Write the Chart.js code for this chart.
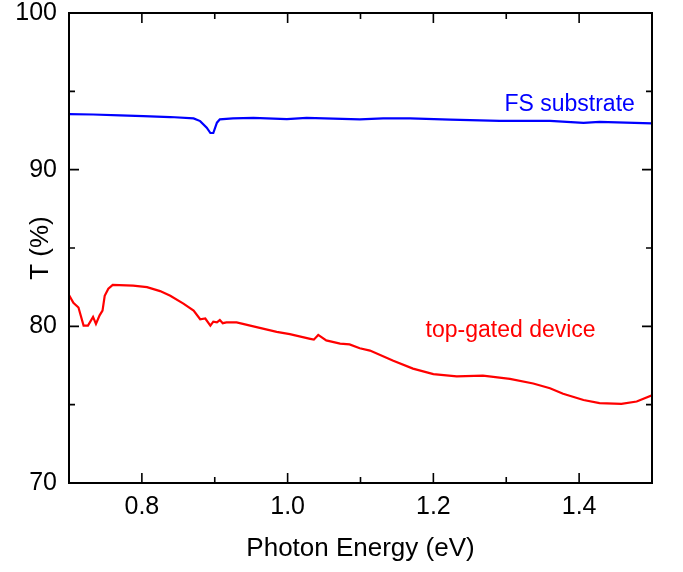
<!DOCTYPE html>
<html>
<head>
<meta charset="utf-8">
<script src="https://cdn.jsdelivr.net/npm/chart.js@4"></script>
<style>
  html, body { margin: 0; padding: 0; background: #fff; }
  #wrap { width: 683px; height: 572px; }
</style>
</head>
<body>
<div id="wrap"><canvas id="c" width="683" height="572"></canvas></div>
<script>
// ---- data ----
const blueEnergy = [0.700,0.733,0.770,0.802,0.839,0.871,0.880,0.889,0.894,0.898,0.903,0.907,0.925,0.953,0.999,1.026,1.099,1.131,1.168,1.223,1.291,1.360,1.406,1.428,1.500];
const blueT      = [93.55,93.52,93.47,93.42,93.36,93.27,93.10,92.68,92.34,92.34,93.00,93.21,93.27,93.31,93.23,93.31,93.21,93.27,93.27,93.19,93.11,93.11,92.99,93.05,92.96];

const redEnergy = [0.700,0.706,0.713,0.720,0.726,0.733,0.737,0.742,0.746,0.749,0.754,0.760,0.788,0.807,0.825,0.839,0.857,0.871,0.880,0.887,0.894,0.898,0.903,0.907,0.911,0.916,0.930,0.953,0.985,1.003,1.031,1.036,1.042,1.053,1.072,1.085,1.099,1.113,1.145,1.172,1.200,1.232,1.268,1.305,1.337,1.360,1.378,1.406,1.428,1.458,1.479,1.500];
const redT      = [82.00,81.50,81.20,80.05,80.05,80.60,80.15,80.70,81.00,81.95,82.40,82.65,82.60,82.50,82.25,81.95,81.45,81.00,80.45,80.50,80.05,80.30,80.25,80.40,80.20,80.25,80.25,80.00,79.65,79.50,79.20,79.15,79.45,79.10,78.90,78.85,78.60,78.45,77.80,77.30,76.95,76.80,76.85,76.65,76.35,76.05,75.70,75.30,75.10,75.05,75.20,75.60];

const seriesNames = ["FS substrate", "top-gated device"];
const xTicks = [0.8, 1.0, 1.2, 1.4];
const xMinorTicks = [0.9, 1.1, 1.3];
const yTicks = [70, 80, 90, 100];
const yMinorTicks = [75, 85, 95];
const xTitle = "Photon Energy (eV)";
const yTitle = "T (%)";
const labelAnchors = [ {x: 1.387, y: 93.74}, {x: 1.306, y: 79.30} ];

const BLUE = '#0000ff';
const RED = '#ff0000';
const FONT = '"Liberation Sans", Arial, Helvetica, sans-serif';

const toPts = (xs, ys) => xs.map((x, i) => ({x: x, y: ys[i]}));

const framePlugin = {
  id: 'frame',
  afterDatasetsDraw(chart) {
    const ctx = chart.ctx;
    const a = chart.chartArea;
    const xs = chart.scales.x, ys = chart.scales.y;
    ctx.save();
    ctx.strokeStyle = '#000';
    ctx.lineWidth = 2;
    ctx.strokeRect(a.left, a.top, a.right - a.left, a.bottom - a.top);
    const major = 10, minor = 6;
    ctx.lineWidth = 1.6;
    ctx.beginPath();
    const xt = (v, len) => {
      const p = xs.getPixelForValue(v);
      ctx.moveTo(p, a.bottom); ctx.lineTo(p, a.bottom - len);
      ctx.moveTo(p, a.top); ctx.lineTo(p, a.top + len);
    };
    const yt = (v, len) => {
      const p = ys.getPixelForValue(v);
      ctx.moveTo(a.left, p); ctx.lineTo(a.left + len, p);
      ctx.moveTo(a.right, p); ctx.lineTo(a.right - len, p);
    };
    xTicks.forEach(v => xt(v, major));
    xMinorTicks.forEach(v => xt(v, minor));
    yTicks.forEach(v => { if (v > 70 && v < 100) yt(v, major); });
    yMinorTicks.forEach(v => yt(v, minor));
    ctx.stroke();

    // series annotations
    ctx.font = '23px ' + FONT;
    ctx.textAlign = 'center';
    ctx.textBaseline = 'alphabetic';
    const cols = [BLUE, RED];
    seriesNames.forEach((s, i) => {
      ctx.fillStyle = cols[i];
      ctx.fillText(s, xs.getPixelForValue(labelAnchors[i].x), ys.getPixelForValue(labelAnchors[i].y));
    });
    ctx.restore();
  }
};

new Chart(document.getElementById('c'), {
  type: 'line',
  data: {
    datasets: [
      { label: seriesNames[0], data: toPts(blueEnergy, blueT), borderColor: BLUE, borderWidth: 2.2, pointRadius: 0, tension: 0, fill: false },
      { label: seriesNames[1], data: toPts(redEnergy, redT), borderColor: RED, borderWidth: 2.2, pointRadius: 0, tension: 0, fill: false }
    ]
  },
  options: {
    responsive: false,
    devicePixelRatio: 1,
    animation: false,
    layout: { padding: { top: 0, right: 31, bottom: 0, left: 0 } },
    plugins: { legend: { display: false }, tooltip: { enabled: false } },
    scales: {
      x: {
        type: 'linear', min: 0.7, max: 1.5,
        afterBuildTicks: s => { s.ticks = xTicks.map(v => ({value: v})); },
        afterFit: s => { s.height = 89; s.paddingLeft = 0; s.paddingRight = 0; },
        grid: { display: false, drawTicks: false },
        border: { display: false },
        ticks: { padding: 9, color: '#000', font: { family: FONT, size: 25 }, maxRotation: 0, callback: v => v.toFixed(1) },
        title: { display: true, text: xTitle, color: '#000', font: { family: FONT, size: 26 }, padding: { top: 0, bottom: 8 } }
      },
      y: {
        type: 'linear', min: 70, max: 100,
        afterBuildTicks: s => { s.ticks = yTicks.map(v => ({value: v})); },
        afterFit: s => { s.width = 69; s.paddingTop = 13; s.paddingBottom = 0; },
        grid: { display: false, drawTicks: false },
        border: { display: false },
        ticks: { padding: 12, color: '#000', font: { family: FONT, size: 25 }, callback: v => String(v) },
        title: { display: true, text: yTitle, color: '#000', font: { family: FONT, size: 26 }, padding: { top: 25, bottom: 0 } }
      }
    }
  },
  plugins: [framePlugin]
});
</script>
</body>
</html>
